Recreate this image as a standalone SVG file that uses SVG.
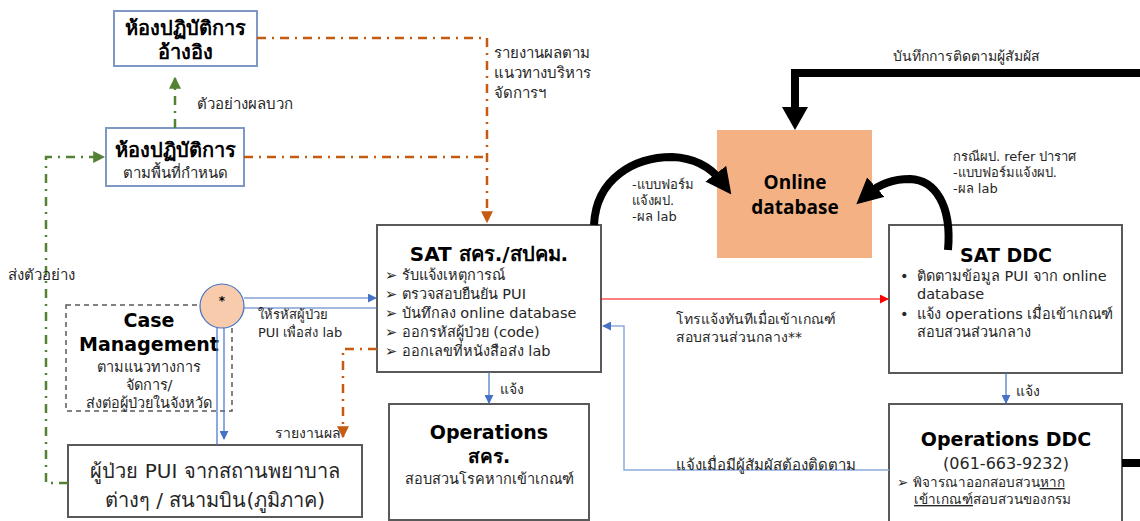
<svg xmlns="http://www.w3.org/2000/svg" width="1140" height="521" viewBox="0 0 1140 521">
<defs>
<style>
text{font-family:"DejaVu Sans","Noto Sans",sans-serif;fill:#262626}
.b{font-weight:bold;fill:#000}
.s13{font-size:13px}
.s14{font-size:14px}
.s15{font-size:15px}
.li{font-size:14.5px}
.cal{font-family:"Open Sans","Noto Sans",sans-serif}
.box{fill:#fff;stroke:#595959;stroke-width:2}
.lab{fill:#fff;stroke:#7f97c4;stroke-width:2}
.or{fill:none;stroke:#c55a11;stroke-width:2.5;stroke-dasharray:9 6 2 6}
.gr{fill:none;stroke:#548235;stroke-width:2.5;stroke-dasharray:9 6 2 6}
.bl{fill:none;stroke:#4472c4;stroke-width:1.2}
.lb{fill:none;stroke:#8faadc;stroke-width:1.5}
.blk{fill:none;stroke:#000;stroke-width:8}
</style>
<marker id="ao" viewBox="0 0 10 10" refX="9" refY="5" markerWidth="12" markerHeight="12" markerUnits="userSpaceOnUse" orient="auto"><path d="M0,0L10,5L0,10z" fill="#c55a11"/></marker>
<marker id="ag" viewBox="0 0 10 10" refX="9" refY="5" markerWidth="12" markerHeight="12" markerUnits="userSpaceOnUse" orient="auto"><path d="M0,0L10,5L0,10z" fill="#548235"/></marker>
<marker id="ab" viewBox="0 0 10 10" refX="9" refY="5" markerWidth="9" markerHeight="9" markerUnits="userSpaceOnUse" orient="auto"><path d="M0,0L10,5L0,10z" fill="#4472c4"/></marker>
<marker id="ar" viewBox="0 0 10 10" refX="9" refY="5" markerWidth="9" markerHeight="9" markerUnits="userSpaceOnUse" orient="auto"><path d="M0,0L10,5L0,10z" fill="#ff0000"/></marker>
<marker id="ak" viewBox="0 0 10 10" refX="4" refY="5" markerWidth="26" markerHeight="26" markerUnits="userSpaceOnUse" orient="auto"><path d="M0,0L10,5L0,10z" fill="#000"/></marker>
</defs>
<rect width="1140" height="521" fill="#fff"/>

<g id="lab-ref">
<rect class="lab" x="114" y="11" width="143" height="55"/>
<text class="b" x="185" y="35" font-size="20" text-anchor="middle">ห้องปฏิบัติการ</text>
<text class="b" x="185" y="59" font-size="20" text-anchor="middle">อ้างอิง</text>
</g>

<g id="lab-area">
<rect class="lab" x="106" y="128" width="138" height="58"/>
<text class="b" x="175" y="157" font-size="20" text-anchor="middle">ห้องปฏิบัติการ</text>
<text class="s15" x="175" y="178" text-anchor="middle">ตามพื้นที่กำหนด</text>
</g>

<g id="case-management">
<rect x="66" y="305" width="166" height="106" fill="none" stroke="#595959" stroke-width="1.5" stroke-dasharray="5 4"/>
<text class="b" x="149" y="327" font-size="19" text-anchor="middle">Case</text>
<text class="b" x="149" y="351" font-size="19" text-anchor="middle">Management</text>
<text class="li" x="149" y="372" text-anchor="middle">ตามแนวทางการ</text>
<text class="li" x="149" y="390" text-anchor="middle">จัดการ/</text>
<text class="li" x="149" y="408" text-anchor="middle">ส่งต่อผู้ป่วยในจังหวัด</text>
</g>

<g id="hub">
<circle cx="222" cy="306" r="22" fill="#f8cbad" stroke="#4472c4" stroke-width="1.2"/>
<text class="b" x="222" y="305" font-size="12" text-anchor="middle">*</text>
</g>

<g id="patient">
<rect class="box" x="68" y="445" width="294" height="72"/>
<text x="215" y="478" font-size="20" text-anchor="middle">ผู้ป่วย PUI จากสถานพยาบาล</text>
<text x="215" y="507" font-size="20" text-anchor="middle">ต่างๆ / สนามบิน(ภูมิภาค)</text>
</g>

<g id="sat-local">
<rect class="box" x="377" y="225" width="224" height="147"/>
<text class="b" x="489" y="261" font-size="20" text-anchor="middle">SAT สคร./สปคม.</text>
<text class="li" x="385" y="280">➢ รับแจ้งเหตุการณ์</text>
<text class="li" x="385" y="299">➢ ตรวจสอบยืนยัน PUI</text>
<text class="li" x="385" y="318">➢ บันทึกลง online database</text>
<text class="li" x="385" y="337">➢ ออกรหัสผู้ป่วย (code)</text>
<text class="li" x="385" y="356">➢ ออกเลขที่หนังสือส่ง lab</text>
</g>

<g id="ops-local">
<rect class="box" x="389" y="404" width="200" height="116"/>
<text class="b" x="489" y="439" font-size="19" text-anchor="middle">Operations</text>
<text class="b" x="489" y="463" font-size="19" text-anchor="middle">สคร.</text>
<text class="li" x="489" y="484" text-anchor="middle">สอบสวนโรคหากเข้าเกณฑ์</text>
</g>

<g id="online-db">
<rect x="717" y="130" width="155" height="128" fill="#f4b183"/>
<text class="b cal" x="795" y="189" font-size="19" text-anchor="middle">Online</text>
<text class="b cal" x="795" y="214" font-size="19" text-anchor="middle">database</text>
</g>

<g id="sat-ddc">
<rect class="box" x="889" y="225" width="233" height="148"/>
<text class="b" x="1006" y="262" font-size="19" text-anchor="middle">SAT DDC</text>
<text class="li" x="900" y="281">•</text>
<text class="li" x="917" y="281">ติดตามข้อมูล PUI จาก online</text>
<text class="li" x="917" y="299">database</text>
<text class="li" x="900" y="319">•</text>
<text class="li" x="917" y="319">แจ้ง operations เมื่อเข้าเกณฑ์</text>
<text class="li" x="917" y="337">สอบสวนส่วนกลาง</text>
</g>

<g id="ops-ddc">
<rect class="box" x="889" y="404" width="233" height="125"/>
<text class="b" x="1006" y="446" font-size="19" text-anchor="middle">Operations DDC</text>
<text x="1006" y="469" font-size="16" text-anchor="middle">(061-663-9232)</text>
<text x="897" y="487" font-size="13.5">➢ พิจารณาออกสอบสวน<tspan text-decoration="underline">หาก</tspan></text>
<text x="914" y="504" font-size="13.5"><tspan text-decoration="underline">เข้าเกณฑ์</tspan>สอบสวนของกรม</text>
</g>

<g id="connectors">
<!-- orange -->
<path class="or" d="M257,38 H487 V222" marker-end="url(#ao)"/>
<path class="or" d="M244,157 H487"/>
<path class="or" d="M377,349 H343 V437" marker-end="url(#ao)"/>
<!-- green -->
<path class="gr" d="M175,128 V78" marker-end="url(#ag)"/>
<path class="gr" d="M68,483 H46 V157 H104" marker-end="url(#ag)"/>
<!-- blue -->
<path class="bl" d="M244,298 H376" marker-end="url(#ab)"/>
<path class="bl" d="M244,308 H377"/>
<path class="bl" d="M217,328 V445"/>
<path class="bl" d="M224,328 V439" marker-end="url(#ab)"/>
<path class="bl" d="M489,372 V403" marker-end="url(#ab)"/>
<path class="bl" d="M1006,373 V403" marker-end="url(#ab)"/>
<path class="lb" d="M889,470 H624 V326 H603" marker-end="url(#ab)"/>
<path fill="none" stroke="#ff0000" stroke-width="1" d="M601,299 H888" marker-end="url(#ar)"/>
<!-- black -->
<path class="blk" d="M1140,73 H795 V108"/>
<path d="M782,107 L808,107 L795,130 Z" fill="#000"/>
<path class="blk" d="M1122,463 H1140"/>
<path class="blk" stroke-width="8" d="M594,225 C596,178 635,157 672,157 C698,158 713,170 722,182" marker-end="url(#ak)"/>
<path class="blk" stroke-width="8" d="M948,250 C952,205 935,180 910,179 C890,179 877,186 868,194" marker-end="url(#ak)"/>
<!-- connector labels -->
<text class="s15" x="197" y="109">ตัวอย่างผลบวก</text>
<text class="s15" x="494" y="58">รายงานผลตาม</text>
<text class="s15" x="494" y="78">แนวทางบริหาร</text>
<text class="s15" x="494" y="98">จัดการฯ</text>
<text class="s15" x="8" y="280">ส่งตัวอย่าง</text>
<text class="s13" x="258" y="319">ให้รหัสผู้ป่วย</text>
<text class="s13" x="258" y="337">PUI เพื่อส่ง lab</text>
<text class="s14" x="275" y="438">รายงานผล</text>
<text class="s14" x="500" y="394">แจ้ง</text>
<text class="s14" x="1016" y="396">แจ้ง</text>
<text class="s14" x="676" y="324">โทรแจ้งทันทีเมื่อเข้าเกณฑ์</text>
<text class="s14" x="676" y="342">สอบสวนส่วนกลาง**</text>
<text class="s15" x="676" y="470">แจ้งเมื่อมีผู้สัมผัสต้องติดตาม</text>
<text class="s14" x="893" y="61">บันทึกการติดตามผู้สัมผัส</text>
<text class="s13" x="632" y="189">-แบบฟอร์ม</text>
<text class="s13" x="632" y="205">แจ้งผป.</text>
<text class="s13" x="632" y="221">-ผล lab</text>
<text class="s13" x="953" y="161">กรณีผป. refer ปาราศ</text>
<text class="s13" x="953" y="177">-แบบฟอร์มแจ้งผป.</text>
<text class="s13" x="953" y="193">-ผล lab</text>
</g>
</svg>
